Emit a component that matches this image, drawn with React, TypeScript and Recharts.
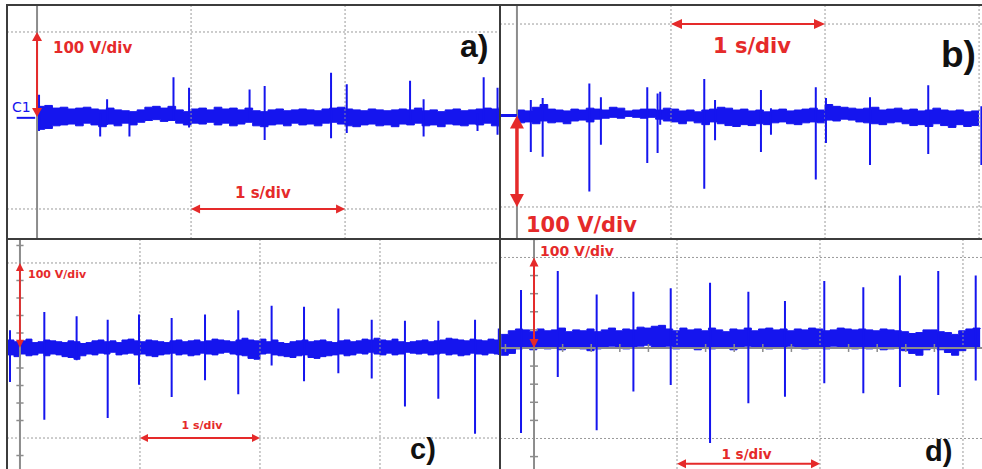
import React from 'react';
import { ComposedChart, Area, Line, XAxis, YAxis, ReferenceLine } from 'recharts';

const BLUE = '#1515ee';
const RED = '#e52a2a';
const GRID = '#9a9a9a';
const AXIS = '#8c8c8c';
const FRAME = '#3c3c3c';
const STEP = 0.05;

// ---------- Panel a) : band sampled every 0.05 s from t = 0 ----------
const aStart = 0;
const aHi = [16, 17, 14, 15, 13, 14, 15, 13, 12, 14, 12, 11, 10, 12, 15, 16, 14, 16, 12, 10, 13, 14, 12, 15, 13, 14, 12, 14, 11, 10, 12, 13, 11, 12, 13, 12, 11, 13, 14, 15, 13, 12, 11, 13, 12, 11, 12, 13, 12, 14, 11, 12, 10, 12, 13, 11, 12, 13, 14, 13, 15];
const aLo = [-10, -9, -6, -5, -4, -6, -3, -5, -7, -4, -6, -3, -5, -2, 0, 1, -1, 0, -3, -5, -3, -4, -2, -5, -3, -6, -4, -2, -6, -7, -5, -4, -6, -3, -5, -4, -6, -3, -2, -4, -6, -7, -5, -4, -6, -5, -7, -4, -5, -3, -6, -5, -7, -4, -5, -6, -4, -5, -3, -6, -7];
// spikes: [time (div), low (V), high (V)]
const aSpikes = [
  [0.013, -12, 29], [0.41, -18, 8], [0.455, -5, 24], [0.6, -18, 8], [0.886, 0, 49],
  [0.987, -8, 37], [1.38, 0, 35], [1.478, -22, 39], [1.909, -20, 54], [2.011, -14, 41],
  [2.422, 0, 45], [2.51, -18, 24], [2.86, -12, 8], [2.9, 0, 49], [2.99, -16, 37],
];

// ---------- Panel b) ----------
const bStart = 0;
const bHi = [6, 5, 9, 12, 7, 6, 5, 7, 6, 8, 7, 6, 9, 8, 5, 6, 7, 7, 6, 8, 7, 5, 6, 4, 6, 7, 9, 8, 6, 7, 5, 6, 4, 6, 7, 5, 6, 7, 8, 6, 12, 10, 9, 8, 7, 8, 9, 6, 7, 8, 6, 7, 5, 6, 8, 6, 5, 6, 4, 5, 6];
const bLo = [-8, -7, -9, -6, -8, -7, -9, -6, -5, -7, -4, -3, -2, -3, -1, -2, -3, -2, -4, -6, -7, -9, -6, -8, -10, -7, -9, -11, -12, -10, -11, -9, -10, -8, -7, -9, -10, -8, -7, -8, -5, -6, -4, -5, -7, -8, -9, -10, -8, -7, -9, -11, -10, -12, -9, -11, -13, -10, -12, -11, -12];
const bSpikes = [
  [0.09, -40, 17], [0.167, -45, 19], [0.47, -83, 35], [0.545, -32, 20], [0.846, -52, 31],
  [0.913, -41, 24], [0.93, -10, 26], [1.216, -80, 40], [1.286, -27, 17], [1.584, -40, 28],
  [1.649, -21, 8], [1.94, -70, 31], [2.006, -30, 19], [2.292, -54, 20], [2.67, -42, 33],
  [3.015, -54, 10],
];

// ---------- Panel c) ----------
const cStart = -0.1;
const cHi = [12, 10, 11, 13, 9, 10, 12, 11, 10, 9, 11, 10, 8, 9, 11, 12, 10, 11, 9, 12, 13, 11, 10, 12, 11, 10, 9, 11, 12, 10, 11, 12, 10, 11, 13, 12, 11, 10, 12, 14, 12, 11, 13, 10, 12, 9, 8, 10, 11, 12, 10, 11, 12, 10, 9, 11, 12, 10, 11, 13, 12, 14, 12, 11, 13, 10, 9, 10, 11, 12, 10, 11, 12, 14, 13, 12, 11, 13, 12, 11, 13, 12, 11];
const cLo = [-5, -7, -4, -6, -5, -3, -6, -4, -5, -7, -8, -10, -6, -4, -5, -3, -4, -2, -5, -4, -3, -5, -4, -6, -7, -5, -4, -3, -5, -4, -6, -5, -3, -4, -5, -3, -2, -4, -5, -6, -9, -10, -4, -3, -5, -6, -7, -8, -6, -5, -8, -9, -7, -6, -5, -4, -6, -5, -3, -4, -2, -4, -5, -3, -5, -4, -2, -3, -4, -3, -5, -4, -3, -5, -4, -6, -5, -3, -4, -5, -3, -4, -5];
const cSpikes = [
  [-0.083, -36, 23], [0.203, -79, 44], [0.472, -11, 39], [0.731, -77, 35], [0.992, -39, 41],
  [1.264, -53, 37], [1.542, -34, 41], [1.819, -50, 46], [2.097, -17, 51], [2.367, -35, 50],
  [2.653, -26, 48], [2.931, -32, 35], [3.208, -64, 34], [3.486, -55, 34], [3.792, -95, 35],
  [3.99, -5, 25],
];

// ---------- Panel d) ----------
const dStart = -0.23;
const dHi = [15, 19, 21, 20, 18, 21, 19, 20, 22, 18, 20, 19, 21, 18, 20, 22, 19, 21, 20, 23, 22, 24, 25, 21, 19, 22, 20, 21, 19, 22, 20, 18, 21, 20, 22, 19, 21, 22, 20, 21, 19, 21, 20, 22, 21, 19, 20, 22, 21, 20, 21, 20, 19, 21, 20, 19, 18, 16, 17, 20, 20, 18, 17, 15, 19, 21, 22, 21];
const dLo = [-8, -6, -1, 0, -2, 1, -1, 0, -2, 1, 0, -1, -3, -1, 0, 2, 1, -1, 0, 2, 3, 1, 0, 2, -1, 0, 1, -2, 0, -1, 1, 0, -2, 0, 2, 1, 0, -1, 1, 0, 2, 0, -1, 1, 0, -1, 2, 0, 1, -1, 0, -1, 0, -2, -1, 0, -3, -6, -8, -2, 0, -2, -5, -8, -3, 0, 1, 0];
const dSpikes = [
  [-0.091, -94, 64], [0.166, -32, 85], [0.438, -91, 59], [0.695, -48, 62], [0.956, -41, 66],
  [1.231, -105, 72], [1.499, -61, 62], [1.755, -54, 52], [2.03, -39, 74], [2.303, -50, 67],
  [2.559, -43, 80], [2.827, -52, 85], [3.089, -36, 80],
];

// minor tick marks on the scope axes
const vTicks = [-120, -80, -60, -40, -20, 20, 40, 60, 80, 120];
const tTicksD = [-0.2, 0.2, 0.4, 0.6, 0.8, 1.2, 1.4, 1.6, 1.8, 2.2, 2.4, 2.6, 2.8, 3.2];

const buildBand = (start: number, hi: number[], lo: number[]) =>
  hi.map((h, i) => ({ t: Math.round((start + i * STEP) * 1000) / 1000, band: [lo[i], h] }));

const buildSpikes = (sp: number[][]) =>
  sp.flatMap(([t, lo, hi]) => [
    { t, v: lo },
    { t, v: hi },
    { t, v: null as number | null },
  ]);

const makeArrow = (width: number, L: number, W: number) => (p: any) => {
  const { x1, y1, x2, y2 } = p;
  const dx = x2 - x1;
  const dy = y2 - y1;
  const len = Math.hypot(dx, dy) || 1;
  const ux = dx / len;
  const uy = dy / len;
  const nx = -uy;
  const ny = ux;
  const head = (tx: number, ty: number, dx1: number, dy1: number) =>
    `${tx},${ty} ${tx - dx1 * L + nx * W},${ty - dy1 * L + ny * W} ${tx - dx1 * L - nx * W},${ty - dy1 * L - ny * W}`;
  return (
    <g>
      <line
        x1={x1 + ux * L * 0.8}
        y1={y1 + uy * L * 0.8}
        x2={x2 - ux * L * 0.8}
        y2={y2 - uy * L * 0.8}
        stroke={RED}
        strokeWidth={width}
      />
      <polygon points={head(x2, y2, ux, uy)} fill={RED} />
      <polygon points={head(x1, y1, -ux, -uy)} fill={RED} />
    </g>
  );
};

type PanelProps = {
  left: number;
  top: number;
  width: number;
  height: number;
  xDomain: [number, number];
  yDomain: [number, number];
  band: any[];
  spikes: any[];
  gridX: number[];
  gridY: number[];
  zeroH?: boolean;
  vTickHalf?: number;
  tTickHalf?: number;
  tTicks?: number[];
  arrows: { seg: [number, number, number, number]; w: number; L: number; W: number }[];
  marker?: { x1: number; x2: number; y: number; w: number };
};

function Panel(p: PanelProps) {
  return (
    <div style={{ position: 'absolute', left: p.left, top: p.top, width: p.width, height: p.height }}>
      <ComposedChart
        width={p.width}
        height={p.height}
        data={p.band}
        margin={{ top: 0, right: 0, bottom: 0, left: 0 }}
      >
        <XAxis dataKey="t" type="number" domain={p.xDomain} hide allowDataOverflow />
        <YAxis type="number" domain={p.yDomain} hide allowDataOverflow />
        {p.gridX.map((x) => (
          <ReferenceLine key={'gx' + x} x={x} stroke={GRID} strokeDasharray="2 2" strokeWidth={1} />
        ))}
        {p.gridY.map((y) => (
          <ReferenceLine key={'gy' + y} y={y} stroke={GRID} strokeDasharray="2 2" strokeWidth={1} />
        ))}
        <ReferenceLine x={0} stroke={AXIS} strokeWidth={2} />
        {p.zeroH && <ReferenceLine y={0} stroke={AXIS} strokeWidth={2} />}
        {p.vTickHalf &&
          vTicks.map((v) => (
            <ReferenceLine
              key={'vt' + v}
              segment={[{ x: -p.vTickHalf!, y: v }, { x: p.vTickHalf!, y: v }]}
              stroke={AXIS}
              strokeWidth={1.5}
            />
          ))}
        {p.tTicks &&
          p.tTicks.map((t) => (
            <ReferenceLine
              key={'tt' + t}
              segment={[{ x: t, y: -p.tTickHalf! }, { x: t, y: p.tTickHalf! }]}
              stroke={AXIS}
              strokeWidth={1.5}
            />
          ))}
        {p.marker && (
          <ReferenceLine
            segment={[{ x: p.marker.x1, y: p.marker.y }, { x: p.marker.x2, y: p.marker.y }]}
            stroke={BLUE}
            strokeWidth={p.marker.w}
          />
        )}
        <Area
          type="stepAfter"
          dataKey="band"
          stroke={BLUE}
          strokeWidth={1}
          fill={BLUE}
          fillOpacity={1}
          dot={false}
          activeDot={false}
          isAnimationActive={false}
        />
        <Line
          data={p.spikes}
          dataKey="v"
          stroke={BLUE}
          strokeWidth={2}
          dot={false}
          activeDot={false}
          connectNulls={false}
          isAnimationActive={false}
        />
        {p.arrows.map((a, i) => (
          <ReferenceLine
            key={'ar' + i}
            segment={[{ x: a.seg[0], y: a.seg[1] }, { x: a.seg[2], y: a.seg[3] }]}
            stroke={RED}
            shape={makeArrow(a.w, a.L, a.W)}
          />
        ))}
      </ComposedChart>
    </div>
  );
}

const redFont = { fontFamily: '"DejaVu Sans", sans-serif', fontWeight: 700, fill: RED } as const;
const letterFont = { fontFamily: '"Liberation Sans", Arial, sans-serif', fontWeight: 700, fill: '#111' } as const;

export default function App() {
  return (
    <div style={{ position: 'absolute', left: 0, top: 0, width: 982, height: 469, background: '#fff', overflow: 'hidden' }}>
      <Panel
        left={7}
        top={5}
        width={493}
        height={234}
        xDomain={[-0.195, 3.006]}
        yDomain={[-133.9, 130.5]}
        band={buildBand(aStart, aHi, aLo)}
        spikes={buildSpikes(aSpikes)}
        gridX={[1, 2]}
        gridY={[100, -100]}
        marker={{ x1: -0.132, x2: -0.012, y: 3, w: 2 }}
        arrows={[
          { seg: [0, 100, 0, 4], w: 2, L: 9, W: 5 },
          { seg: [1, -100, 2, -100], w: 2, L: 9, W: 4.5 },
        ]}
      />
      <Panel
        left={500}
        top={5}
        width={482}
        height={234}
        xDomain={[-0.11, 3.019]}
        yDomain={[-135.0, 120.8]}
        band={buildBand(bStart, bHi, bLo)}
        spikes={buildSpikes(bSpikes)}
        gridX={[1, 2, 3]}
        gridY={[100, -100]}
        marker={{ x1: -0.11, x2: 0, y: 0, w: 3 }}
        arrows={[
          { seg: [0, 0, 0, -100], w: 3.5, L: 13, W: 7 },
          { seg: [1, 100, 2, 100], w: 2, L: 11, W: 5 },
        ]}
      />
      <Panel
        left={7}
        top={239}
        width={493}
        height={230}
        xDomain={[-0.108, 4.0]}
        yDomain={[-135.4, 127.4]}
        band={buildBand(cStart, cHi, cLo)}
        spikes={buildSpikes(cSpikes)}
        gridX={[1, 2, 3]}
        gridY={[100, -100]}
        vTickHalf={0.03}
        arrows={[
          { seg: [0, 100, 0, 3], w: 1.8, L: 8, W: 4 },
          { seg: [1, -100, 2, -100], w: 2, L: 8, W: 4 },
        ]}
      />
      <Panel
        left={500}
        top={239}
        width={482}
        height={230}
        xDomain={[-0.238, 3.133]}
        yDomain={[-133.7, 120.4]}
        band={buildBand(dStart, dHi, dLo)}
        spikes={buildSpikes(dSpikes)}
        gridX={[1, 2, 3]}
        gridY={[100, -100]}
        zeroH
        vTickHalf={0.028}
        tTicks={tTicksD}
        tTickHalf={4.4}
        arrows={[
          { seg: [0, 100, 0, 0], w: 2, L: 9, W: 4.5 },
          { seg: [1, -128, 2, -128], w: 2, L: 9, W: 4.5 },
        ]}
      />
      <svg
        width={982}
        height={469}
        style={{ position: 'absolute', left: 0, top: 0, pointerEvents: 'none' }}
      >
        <line x1={7} y1={4} x2={7} y2={469} stroke={FRAME} strokeWidth={2} />
        <line x1={6} y1={5} x2={982} y2={5} stroke={FRAME} strokeWidth={2} />
        <line x1={500} y1={4} x2={500} y2={469} stroke={FRAME} strokeWidth={2} />
        <line x1={6} y1={239} x2={982} y2={239} stroke={FRAME} strokeWidth={2} />

        <text x={12} y={112} style={{ fontFamily: '"DejaVu Sans", sans-serif', fill: BLUE }} fontSize={14}>C1</text>

        <text x={53} y={52.5} style={redFont} fontSize={15}>100 V/div</text>
        <text x={235} y={198} style={redFont} fontSize={15}>1 s/div</text>
        <text x={460} y={57} style={letterFont} fontSize={32}>a)</text>

        <text x={713} y={53} style={redFont} fontSize={21}>1 s/div</text>
        <text x={941} y={67} style={letterFont} fontSize={37}>b)</text>
        <text x={526} y={231.5} style={redFont} fontSize={21}>100 V/div</text>

        <text x={28} y={278} style={redFont} fontSize={11}>100 V/div</text>
        <text x={181.5} y={429} style={redFont} fontSize={11}>1 s/div</text>
        <text x={410} y={458.5} style={letterFont} fontSize={29}>c)</text>

        <text x={540} y={255.5} style={redFont} fontSize={14}>100 V/div</text>
        <text x={721.5} y={459} style={redFont} fontSize={13.5}>1 s/div</text>
        <text x={925} y={461} style={letterFont} fontSize={29}>d)</text>
      </svg>
    </div>
  );
}
